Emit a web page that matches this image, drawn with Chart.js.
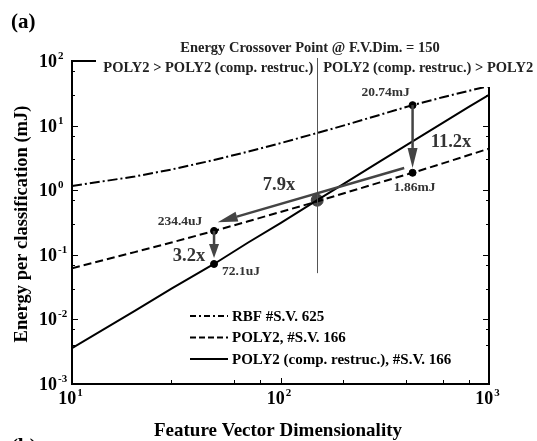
<!DOCTYPE html>
<html>
<head>
<meta charset="utf-8">
<script src="https://cdn.jsdelivr.net/npm/chart.js"></script>
<style>
  body { margin: 0; background: #fff; }
</style>
</head>
<body>
<canvas id="grafico" width="537" height="441"></canvas>
<script>
// Datos
const dims = [10, 20, 30, 48, 70, 100, 150, 200, 300, 430, 600, 800, 1000];
const rbf = [1.16, 1.63, 2.09, 2.93, 3.96, 5.35, 7.68, 10.0, 14.7, 20.74, 27.5, 34.5, 41.0];
const poly2 = [0.062, 0.11, 0.155, 0.234, 0.33, 0.46, 0.67, 0.89, 1.32, 1.86, 2.6, 3.5, 4.4];
const poly2Comp = [0.0036, 0.0135, 0.03, 0.0721, 0.155, 0.31, 0.7, 1.24, 2.8, 5.7, 11.0, 19.5, 30.0];

const etiquetas = ["RBF #S.V. 625", "POLY2, #S.V. 166", "POLY2 (comp. restruc.), #S.V. 166"];

// puntos marcados
const puntosX = [430, 430, 48, 48];
const puntosY = [20.74, 1.86, 0.2344, 0.0721];
const puntosTexto = ["20.74mJ", "1.86mJ", "234.4uJ", "72.1uJ"];
const cruceX = 150;
const cruceY = 0.7;

// flechas [x1, y1, x2, y2] en unidades de datos
const flechas = [
  [430, 20.74, 430, 2.21],
  [48, 0.2344, 48, 0.089],
  [392, 2.21, 50, 0.32],
];
const factores = ["11.2x", "3.2x", "7.9x"];

const ticksY = [0.001, 0.01, 0.1, 1, 10, 100];
const ticksX = [10, 100, 1000];

const serif = "'Liberation Serif', 'Times New Roman', serif";

function linea(vals) {
  return dims.map((d, i) => ({ x: d, y: vals[i] }));
}

function potencia(ctx, base, exp, x, y, tam, alinear) {
  // dibuja "10" con exponente
  ctx.font = `bold ${tam}px ${serif}`;
  const w1 = ctx.measureText(base).width;
  ctx.font = `bold ${Math.round(tam * 0.62)}px ${serif}`;
  const w2 = ctx.measureText(exp).width;
  let x0 = x;
  if (alinear === "center") x0 = x - (w1 + w2) / 2;
  if (alinear === "right") x0 = x - w1;
  ctx.textAlign = "left";
  ctx.textBaseline = "alphabetic";
  ctx.font = `bold ${tam}px ${serif}`;
  ctx.fillText(base, x0, y);
  ctx.font = `bold ${Math.round(tam * 0.62)}px ${serif}`;
  ctx.fillText(exp, x0 + w1 + 1, y - tam * 0.45);
}

function flecha(ctx, x1, y1, x2, y2, largo, ancho) {
  const ang = Math.atan2(y2 - y1, x2 - x1);
  const bx = x2 - largo * Math.cos(ang);
  const by = y2 - largo * Math.sin(ang);
  ctx.beginPath();
  ctx.moveTo(x1, y1);
  ctx.lineTo(bx, by);
  ctx.stroke();
  ctx.beginPath();
  ctx.moveTo(x2, y2);
  ctx.lineTo(bx + ancho * Math.sin(ang), by - ancho * Math.cos(ang));
  ctx.lineTo(bx - ancho * Math.sin(ang), by + ancho * Math.cos(ang));
  ctx.closePath();
  ctx.fill();
}

const dibujo = {
  id: "dibujo",
  afterDatasetsDraw(chart) {
    const ctx = chart.ctx;
    const a = chart.chartArea;
    const sx = chart.scales.x;
    const sy = chart.scales.y;
    ctx.save();

    // marco
    ctx.strokeStyle = "#000";
    ctx.lineWidth = 2;
    ctx.strokeRect(a.left, a.top, a.right - a.left, a.bottom - a.top);

    // marcas hacia dentro
    ctx.lineWidth = 1;
    const tx = sx.ticks.length ? sx.ticks.map((t) => t.value) : [];
    tx.forEach((v) => {
      if (v < 10 || v > 1000) return;
      const p = Math.round(sx.getPixelForValue(v)) + 0.5;
      const l = ticksX.includes(v) ? 6 : 4;
      ctx.beginPath();
      ctx.moveTo(p, a.bottom);
      ctx.lineTo(p, a.bottom - l);
      ctx.moveTo(p, a.top);
      ctx.lineTo(p, a.top + l);
      ctx.stroke();
    });
    const ty = sy.ticks.length ? sy.ticks.map((t) => t.value) : [];
    ty.forEach((v) => {
      if (v < 0.001 || v > 100) return;
      const p = Math.round(sy.getPixelForValue(v)) + 0.5;
      const l = ticksY.some((t) => Math.abs(t - v) / t < 1e-6) ? 6 : 3;
      ctx.beginPath();
      ctx.moveTo(a.left, p);
      ctx.lineTo(a.left + l, p);
      ctx.moveTo(a.right, p);
      ctx.lineTo(a.right - l, p);
      ctx.stroke();
    });

    // etiquetas de ejes
    ctx.fillStyle = "#000";
    ticksY.forEach((v) => {
      const p = sy.getPixelForValue(v);
      potencia(ctx, "10", String(Math.round(Math.log10(v))), 57, p + 6, 18, "right");
    });
    ticksX.forEach((v) => {
      const p = sx.getPixelForValue(v);
      potencia(ctx, "10", String(Math.round(Math.log10(v))), p - 2, 404, 18, "center");
    });

    ctx.font = `bold 19px ${serif}`;
    ctx.textAlign = "center";
    ctx.textBaseline = "alphabetic";
    ctx.fillText("Feature Vector Dimensionality", 278, 436);
    ctx.save();
    ctx.translate(27, 224);
    ctx.rotate(-Math.PI / 2);
    ctx.font = `bold 18.5px ${serif}`;
    ctx.fillText("Energy per classification (mJ)", 0, 0);
    ctx.restore();

    ctx.font = `bold 21px ${serif}`;
    ctx.textAlign = "left";
    ctx.fillText("(a)", 11, 28);
    ctx.fillText("(b)", 11, 453);

    // cabecera con fondo blanco
    ctx.fillStyle = "#fff";
    ctx.fillRect(96, 55, 441, 32);
    ctx.fillStyle = "#222";
    ctx.font = `bold 14.5px ${serif}`;
    ctx.textAlign = "center";
    ctx.fillText("Energy Crossover Point @ F.V.Dim. = 150", 310, 52);
    const xc = sx.getPixelForValue(cruceX);
    ctx.textAlign = "right";
    ctx.fillText("POLY2 > POLY2 (comp. restruc.)", xc - 4, 72);
    ctx.textAlign = "left";
    ctx.fillText("POLY2 (comp. restruc.) > POLY2", xc + 6, 72);

    // linea vertical del cruce
    ctx.strokeStyle = "#555";
    ctx.lineWidth = 1;
    ctx.beginPath();
    ctx.moveTo(Math.round(xc) + 0.5, 58);
    ctx.lineTo(Math.round(xc) + 0.5, sy.getPixelForValue(0.052));
    ctx.stroke();

    // flechas
    ctx.strokeStyle = "#444";
    ctx.fillStyle = "#444";
    ctx.lineWidth = 2.5;
    flechas.forEach((f, i) => {
      const x1 = sx.getPixelForValue(f[0]);
      const y1 = sy.getPixelForValue(f[1]);
      const x2 = sx.getPixelForValue(f[2]);
      const y2 = sy.getPixelForValue(f[3]);
      flecha(ctx, x1, y1, x2, y2, i === 1 ? 14 : 20, 5);
    });

    // textos de puntos
    ctx.fillStyle = "#333";
    ctx.font = `bold 13.5px ${serif}`;
    ctx.textAlign = "center";
    ctx.textBaseline = "middle";
    const off = [[-27, -13], [2, 15], [-34, -9], [27, 8]];
    puntosTexto.forEach((t, i) => {
      const px = sx.getPixelForValue(puntosX[i]);
      const py = sy.getPixelForValue(puntosY[i]);
      ctx.fillText(t, px + off[i][0], py + off[i][1]);
    });

    ctx.font = `bold 18.5px ${serif}`;
    ctx.fillText(factores[0], 451, 142);
    ctx.fillText(factores[1], 189, 256);
    ctx.fillText(factores[2], 279, 185);

    // leyenda
    ctx.textAlign = "left";
    ctx.font = `bold 15px ${serif}`;
    chart.data.datasets.slice(0, 3).forEach((ds, i) => {
      const y = 316 + i * 21.5;
      ctx.strokeStyle = "#000";
      ctx.lineWidth = 2;
      ctx.setLineDash(ds.legendDash);
      ctx.beginPath();
      ctx.moveTo(190, y);
      ctx.lineTo(228, y);
      ctx.stroke();
      ctx.setLineDash([]);
      ctx.fillStyle = "#000";
      ctx.fillText(ds.label, 232, y + 1);
    });

    ctx.restore();
  },
};

new Chart(document.getElementById("grafico"), {
  type: "line",
  data: {
    datasets: [
      {
        label: etiquetas[0],
        data: linea(rbf),
        borderColor: "#000",
        borderWidth: 2,
        borderDash: [10, 3, 2, 3],
        legendDash: [6, 3, 2, 3],
        pointRadius: 0,
      },
      {
        label: etiquetas[1],
        data: linea(poly2),
        borderColor: "#000",
        borderWidth: 2,
        borderDash: [8, 4],
        legendDash: [6, 3],
        pointRadius: 0,
      },
      {
        label: etiquetas[2],
        data: linea(poly2Comp),
        borderColor: "#000",
        borderWidth: 2,
        legendDash: [],
        pointRadius: 0,
      },
      {
        label: "puntos",
        data: puntosX.map((x, i) => ({ x: x, y: puntosY[i] })),
        showLine: false,
        pointRadius: 3.5,
        pointBackgroundColor: "#000",
        pointBorderColor: "#000",
      },
      {
        label: "cruce",
        data: [{ x: cruceX, y: cruceY }],
        showLine: false,
        pointRadius: 6,
        pointBackgroundColor: "#444",
        pointBorderColor: "#444",
      },
    ],
  },
  options: {
    responsive: false,
    animation: false,
    devicePixelRatio: 1,
    layout: { padding: { left: 72, right: 48, top: 61, bottom: 57 } },
    plugins: { legend: { display: false }, tooltip: { enabled: false } },
    scales: {
      x: { type: "logarithmic", min: 10, max: 1000, display: false },
      y: { type: "logarithmic", min: 0.001, max: 100, display: false },
    },
  },
  plugins: [dibujo],
});
</script>
</body>
</html>
